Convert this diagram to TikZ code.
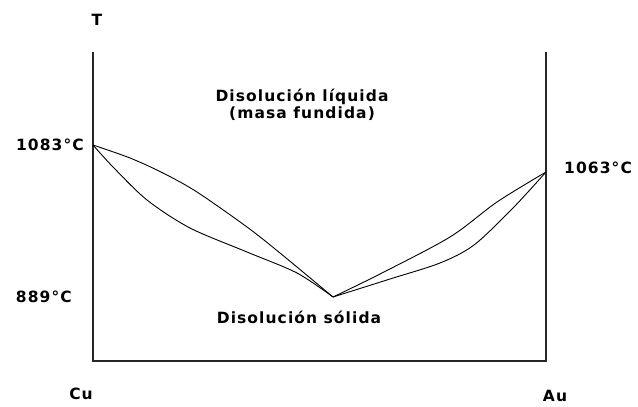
\documentclass[tikz,border=0pt]{standalone}
\usepackage{fontspec}
\setmainfont{DejaVu Sans}[LetterSpace=7]
\begin{document}
\begin{tikzpicture}[x=1pt,y=-1pt,
    axis/.style={line width=1.6pt, draw=black!85},
    curve/.style={line width=0.9pt},
    lbl/.style={font=\bfseries\fontsize{15.5}{17}\selectfont, inner sep=0pt}]
          \useasboundingbox (0,0) rectangle (638,407);
          \coordinate (top) at (93,52);
          \coordinate (orig) at (93,361);
          \coordinate (end) at (546,361);
          \coordinate (rtop) at (546,52);
          \coordinate (cu) at (93,145);
          \coordinate (au) at (546,172);
          \coordinate (eut) at (333,297);

          \draw[axis] (top) -- (orig) -- (end) -- (rtop);

          % liquidus and solidus, Cu side
          \draw[curve] plot[smooth] coordinates {(cu) (130,158) (163,173) (197,192) (247,227) (280,253) (eut)};
          \draw[curve] plot[smooth] coordinates {(cu) (113,167) (147,200) (190,228) (247,252) (297,273) (eut)};
          % Au side
          \draw[curve] plot[smooth] coordinates {(eut) (380,274) (450,237) (497,202) (au)};
          \draw[curve] plot[smooth, tension=0.5] coordinates {(eut) (390,279) (440,263) (474,245) (513,208) (au)};

          \node[lbl] (t) at (97,20) {T};
          \node[lbl, anchor=east] (tcu) at (84,145) {1083°C};
          \node[lbl, anchor=east] (teut) at (72,297) {889°C};
          \node[lbl, anchor=west] (tau) at (564,168) {1063°C};
          \node[lbl] (liq) at (302,97) {Disolución líquida};
          \node[lbl] (masa) at (302,114) {(masa fundida)};
          \node[lbl] (sol) at (299,317) {Disolución sólida};
          \node[lbl] (ncu) at (81,394) {Cu};
          \node[lbl] (nau) at (555,396) {Au};
        \end{tikzpicture}
\end{document}
